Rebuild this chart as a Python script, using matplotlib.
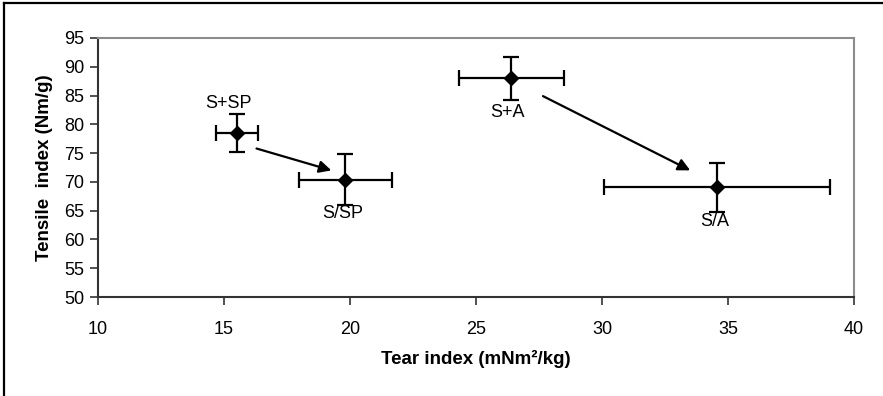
import matplotlib
matplotlib.use("Agg")
import matplotlib.pyplot as plt
from matplotlib.lines import Line2D

plt.rcParams['font.family'] = ['Liberation Sans', 'DejaVu Sans']

labels = ["S+SP", "S/SP", "S+A", "S/A"]
tear = [15.52, 19.82, 26.4, 34.56]
tensile = [78.5, 70.4, 88.0, 69.1]
tear_err = [0.83, 1.85, 2.08, 4.5]
tensile_err = [3.3, 4.4, 3.7, 4.25]
# label offsets in points (dx, dy)
label_offsets = [(-6.5, 21), (-2, -24.5), (-3, -24.5), (-1.5, -25)]

arrows = [((16.29, 75.8), (19.26, 72.0)), ((27.66, 84.9), (33.5, 72.0))]

xticks = [10, 15, 20, 25, 30, 35, 40]
yticks = [50, 55, 60, 65, 70, 75, 80, 85, 90, 95]

fig = plt.figure(figsize=(8.83, 3.96), dpi=100)
ax = fig.add_axes([98/883, 1-297/396, (854-98)/883, (297-38)/396])

ax.errorbar(tear, tensile, xerr=tear_err, yerr=tensile_err, fmt='D', color='black',
            markersize=7, elinewidth=1.6, capsize=5.5, capthick=1.6, ecolor='black', zorder=3)

for lab, x, y, (dx, dy) in zip(labels, tear, tensile, label_offsets):
    ax.annotate(lab, (x, y), xytext=(dx, dy), textcoords='offset points',
                ha='center', va='center', fontsize=13)

for (x0, y0), (x1, y1) in arrows:
    ax.annotate('', xy=(x1, y1), xytext=(x0, y0),
                arrowprops=dict(arrowstyle='-|>', color='black', lw=1.6, mutation_scale=18,
                                shrinkA=0, shrinkB=0))

ax.set_xlim(10, 40)
ax.set_ylim(50, 95)
ax.set_xticks(xticks)
ax.set_yticks(yticks)
ax.tick_params(axis='both', labelsize=13, length=6, width=1.2, direction='out', color='#333333', pad=4)
ax.tick_params(axis='x', pad=11)
for s in ['top', 'right']:
    ax.spines[s].set_color('#8c8c8c')
    ax.spines[s].set_linewidth(1.5)
for s in ['left', 'bottom']:
    ax.spines[s].set_color('#333333')
    ax.spines[s].set_linewidth(1.5)

ax.set_xlabel("Tear index (mNm²/kg)", fontsize=13.5, fontweight='bold', labelpad=9)
ax.set_ylabel("Tensile  index (Nm/g)", fontsize=13.5, fontweight='bold', labelpad=8)

# figure frame: left and top edges only
fig.add_artist(Line2D([4/883, 4/883], [0, 1-3/396], transform=fig.transFigure, color='black', lw=1.6))
fig.add_artist(Line2D([4/883, 1], [1-3/396, 1-3/396], transform=fig.transFigure, color='black', lw=1.6))

fig.savefig("out.png", dpi=100)
